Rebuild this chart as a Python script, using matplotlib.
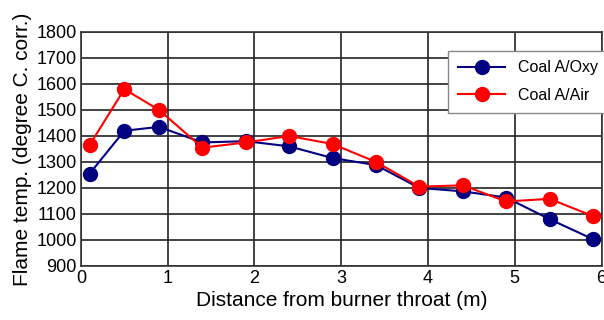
import numpy as np
import matplotlib.pyplot as plt

plt.rcParams['font.family'] = ['Liberation Sans', 'DejaVu Sans']

# Data
distance = [0.1, 0.5, 0.9, 1.4, 1.9, 2.4, 2.9, 3.4, 3.9, 4.4, 4.9, 5.4, 5.9]
temp_oxy = [1255, 1420, 1435, 1375, 1380, 1360, 1315, 1288, 1200, 1187, 1163, 1080, 1003]
temp_air = [1365, 1580, 1500, 1355, 1375, 1400, 1369, 1300, 1205, 1210, 1148, 1158, 1092]
xticks = [0, 1, 2, 3, 4, 5, 6]
yticks = np.arange(900, 1801, 100)

fig = plt.figure(figsize=(6.04, 3.2), dpi=100)
ax = fig.add_axes([0.134, 0.169, 0.862, 0.731])

ax.plot(distance, temp_oxy, color='#000080', marker='o', ms=10, lw=1.5, label='Coal A/Oxy', zorder=3)
ax.plot(distance, temp_air, color='#ff0000', marker='o', ms=10, lw=1.5, label='Coal A/Air', zorder=4)

ax.set_xlim(0, 6)
ax.set_ylim(900, 1800)
ax.set_xticks(xticks)
ax.set_yticks(yticks)
ax.grid(True, color='#222222', lw=1.2)
ax.tick_params(labelsize=13, length=0, pad=3)
for s in ax.spines.values():
    s.set_color('#333333')
    s.set_linewidth(1.2)

ax.set_xlabel("Distance from burner throat (m)", fontsize=15, labelpad=3)
ax.set_ylabel("Flame temp. (degree C. corr.)", fontsize=15, labelpad=3)

leg = ax.legend(loc='upper right', bbox_to_anchor=(1.012, 0.92), borderaxespad=0,
                fontsize=11.5, fancybox=False, framealpha=1, edgecolor='#888888',
                handlelength=3, borderpad=0.6, labelspacing=0.8)

fig.savefig("out.png", dpi=100)
